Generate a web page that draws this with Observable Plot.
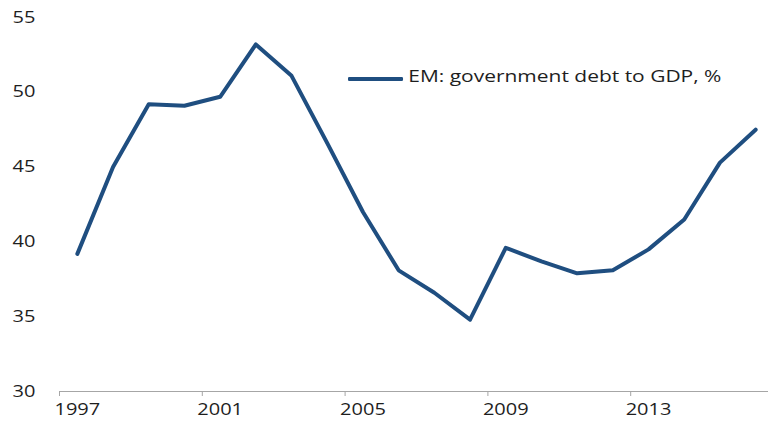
<!DOCTYPE html>
<html>
<head>
<meta charset="utf-8">
<script src="https://cdn.jsdelivr.net/npm/d3@7"></script>
<script src="https://cdn.jsdelivr.net/npm/@observablehq/plot@0.6"></script>
<style>
  body { margin: 0; background: #fff; }
  #wrap { position: relative; width: 768px; height: 425px; overflow: hidden; }
  #legend {
    position: absolute; left: 348px; top: 66px;
    display: flex; align-items: center; white-space: nowrap;
    font-family: "Open Sans", sans-serif; font-size: 16px; line-height: 20px; color: #1e1e1e;
    transform: scaleX(1.31); transform-origin: left center;
  }
  #legend .swatch { width: 42px; height: 4px; background: #1f4e80; margin-right: 4px; position: relative; top: 3px; border-radius: 1px; }
</style>
</head>
<body>
<div id="wrap"></div>
<script>
// ---- data ----
const years = [1997, 1998, 1999, 2000, 2001, 2002, 2003, 2004, 2005, 2006,
               2007, 2008, 2009, 2010, 2011, 2012, 2013, 2014, 2015, 2016];
const debtToGdp = [39.2, 45.0, 49.2, 49.1, 49.7, 53.2, 51.1, 46.6, 42.0, 38.1,
                   36.6, 34.8, 39.6, 38.7, 37.9, 38.1, 39.5, 41.5, 45.3, 47.5];
const xTickLabels = [1997, 2001, 2005, 2009, 2013];
const xTickMarks = [1996.5, 2000.5, 2004.5, 2008.5, 2012.5];
const yTicks = [30, 35, 40, 45, 50, 55];
const seriesName = "EM: government debt to GDP, %";

const table = years.map((year, i) => ({year, value: debtToGdp[i]}));

const lineColor = "#1f4e80";
const axisColor = "#a6a6a6";

const chart = Plot.plot({
  width: 768,
  height: 425,
  marginLeft: 59,
  marginRight: 0,
  marginTop: 17,
  marginBottom: 34,
  style: {fontFamily: "'Open Sans', sans-serif", fontSize: "16px", color: "#1e1e1e", background: "#fff"},
  x: {domain: [1996.5, 2016.36]},
  y: {domain: [30, 55]},
  marks: [
    Plot.axisY(yTicks, {tickSize: 0, tickPadding: 24, label: null, tickFormat: d => String(d)}),
    Plot.ruleY([30], {stroke: axisColor, strokeWidth: 1}),
    Plot.axisX(xTickMarks, {tickSize: 5, stroke: axisColor, label: null, tickFormat: () => ""}),
    Plot.axisX(xTickLabels, {tickSize: 0, tickPadding: 12, label: null, tickFormat: d => String(d)}),
    Plot.lineY(table, {x: "year", y: "value", stroke: lineColor, strokeWidth: 4, strokeLinejoin: "round", strokeLinecap: "round"})
  ]
});

const wrap = document.getElementById("wrap");
wrap.appendChild(chart);

// stretch axis text horizontally about its anchor (the original is rendered wide)
const stretch = 1.25;
chart.querySelectorAll("text").forEach(t => {
  if (!t.textContent) return;
  const bb = t.getBBox();
  let anchor = t.getAttribute("text-anchor");
  if (!anchor) {
    let p = t.parentNode;
    while (p && p.getAttribute && !p.getAttribute("text-anchor")) p = p.parentNode;
    anchor = p && p.getAttribute ? p.getAttribute("text-anchor") : "start";
  }
  const ax = anchor === "end" ? bb.x + bb.width : anchor === "middle" ? bb.x + bb.width / 2 : bb.x;
  const tr = t.getAttribute("transform") || "";
  t.setAttribute("transform", `${tr} translate(${ax},0) scale(${stretch},1) translate(${-ax},0)`.trim());
});

const legend = document.createElement("div");
legend.id = "legend";
legend.innerHTML = `<span class="swatch"></span><span></span>`;
legend.lastChild.textContent = seriesName;
wrap.appendChild(legend);
</script>
</body>
</html>
